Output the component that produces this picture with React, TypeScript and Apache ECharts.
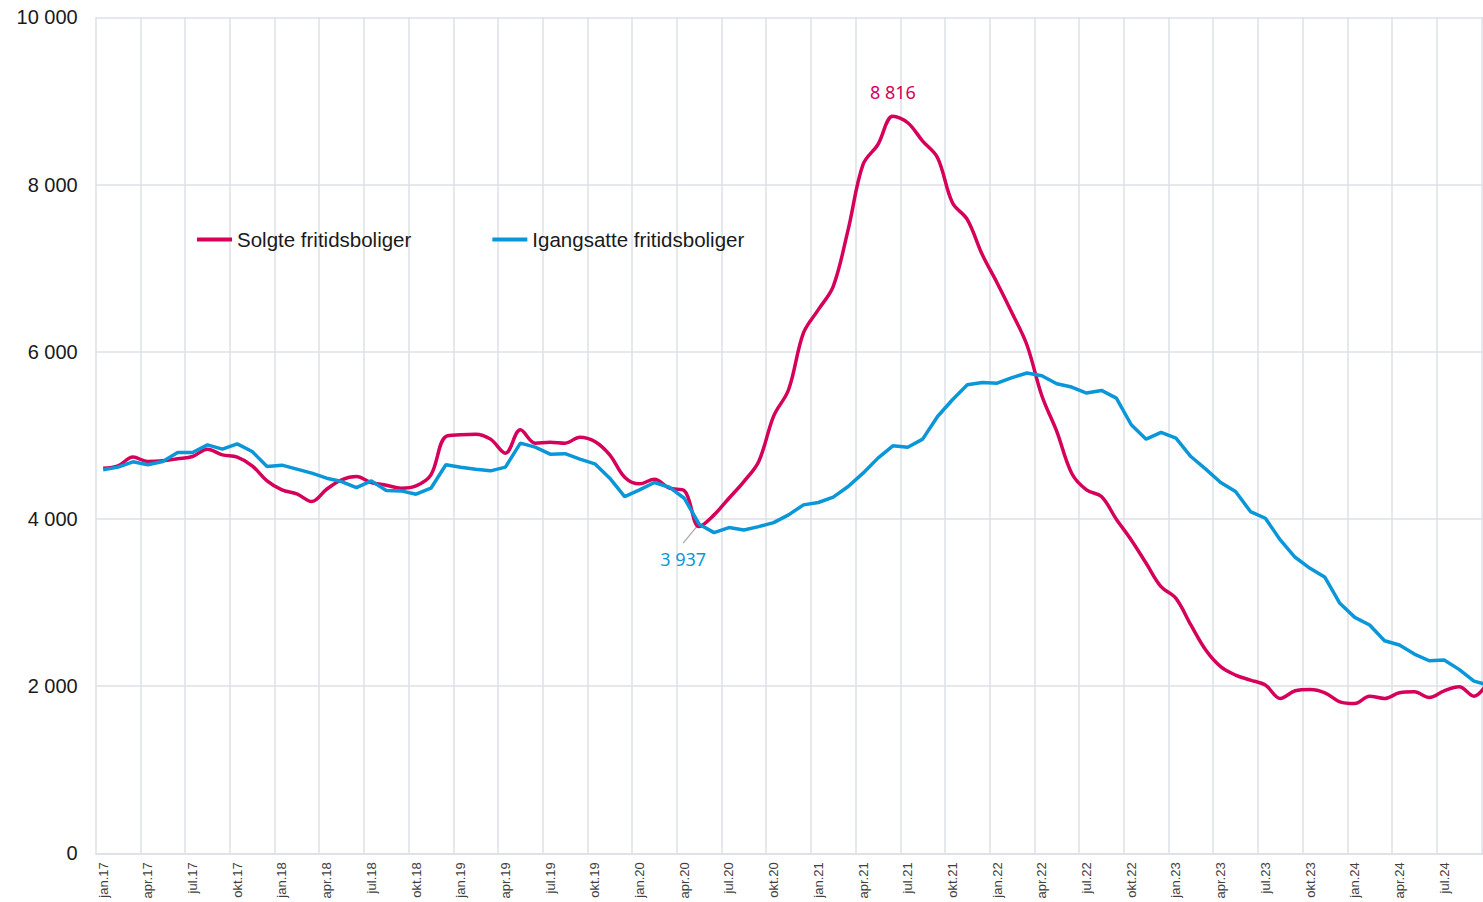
import React, { useEffect, useRef } from "react";
import * as echarts from "echarts";

const monthNames = ["jan", "feb", "mar", "apr", "mai", "jun", "jul", "aug", "sep", "okt", "nov", "des"];
const years = ["17", "18", "19", "20", "21", "22", "23", "24"];
const lastMonthIndex2024 = 9; // okt.24

const categories: string[] = [];
years.forEach((y) => {
  monthNames.forEach((m, mi) => {
    if (y === "24" && mi > lastMonthIndex2024) return;
    categories.push(`${m}.${y}`);
  });
});

const solgte = [
  4607, 4635, 4739, 4687, 4695, 4719, 4746, 4834, 4766, 4739, 4635, 4455,
  4347, 4299, 4207, 4355, 4467, 4507, 4435, 4403, 4367, 4395, 4527, 4986,
  5006, 5014, 4954, 4786, 5066, 4906, 4918, 4906, 4978, 4926, 4766, 4499,
  4419, 4475, 4367, 4339, 3908, 4048, 4247, 4447, 4687, 5230, 5545, 6224,
  6503, 6782, 7461, 8240, 8479, 8816, 8739, 8519, 8320, 7781, 7581, 7162,
  6822, 6463, 6080, 5473, 5046, 4547, 4347, 4267, 3996, 3748, 3469, 3189,
  3050, 2731, 2431, 2232, 2132, 2072, 2012, 1852, 1944, 1960, 1920, 1812,
  1792, 1880, 1852, 1920, 1932, 1864, 1944, 1992, 1880, 2060,
];

const igangsatte = [
  4587, 4619, 4683, 4647, 4687, 4794, 4794, 4886, 4834, 4898, 4806, 4627,
  4643, 4595, 4547, 4487, 4447, 4375, 4455, 4339, 4335, 4295, 4367, 4647,
  4619, 4595, 4575, 4619, 4906, 4858, 4774, 4780, 4715, 4659, 4487, 4267,
  4347, 4435, 4379, 4247, 3937, 3836, 3896, 3868, 3908, 3956, 4048, 4168,
  4196, 4260, 4387, 4547, 4727, 4874, 4858, 4954, 5225, 5425, 5605, 5632,
  5624, 5690, 5745, 5713, 5617, 5577, 5505, 5537, 5445, 5126, 4954, 5034,
  4966, 4746, 4595, 4435, 4327, 4088, 4008, 3748, 3541, 3409, 3301, 2990,
  2822, 2731, 2543, 2491, 2383, 2303, 2311, 2200, 2060, 2010,
];

const seriesNames = ["Solgte fritidsboliger", "Igangsatte fritidsboliger"];
const peakLabelCategory = "jun.21";
const lowLabelCategory = "mai.20";

const RED = "#D6005B";
const BLUE = "#0A97D9";
const GRID = "#DDE1E7";

const fmt = (v: number) => String(v).replace(/\B(?=(\d{3})+(?!\d))/g, " ");

export default function App() {
  const ref = useRef<HTMLDivElement>(null);

  useEffect(() => {
    if (!ref.current) return;
    const chart = echarts.init(ref.current, undefined, { renderer: "svg" });
    const peakIdx = categories.indexOf(peakLabelCategory);
    const lowIdx = categories.indexOf(lowLabelCategory);

    const redData = solgte.map((v, i) =>
      i === peakIdx
        ? {
            value: v,
            label: {
              show: true,
              position: "top",
              distance: 15,
              formatter: () => fmt(v),
              color: RED,
              fontSize: 18,
              fontFamily: "Noto Sans",
            },
          }
        : v
    );
    const blueData = igangsatte.map((v, i) =>
      i === lowIdx
        ? {
            value: v,
            label: {
              show: true,
              position: "bottom",
              distance: 0,
              offset: [-16, 26],
              formatter: () => fmt(v),
              color: BLUE,
              fontSize: 18,
              fontFamily: "Noto Sans",
            },
          }
        : v
    );

    chart.setOption({
      animation: false,
      backgroundColor: "#ffffff",
      grid: { left: 95.7, top: 17.3, bottom: 48.7, right: 13.7, containLabel: false },
      legend: {
        left: 192,
        top: 224,
        itemGap: 81,
        itemWidth: 35,
        itemHeight: 4,
        icon: "rect",
        textStyle: { fontSize: 20.5, color: "#1a1a1a", fontFamily: "Liberation Sans, Arial, sans-serif" },
        data: seriesNames,
      },
      xAxis: {
        type: "category",
        data: categories,
        boundaryGap: true,
        axisLine: { show: true, lineStyle: { color: GRID, width: 1.5 } },
        axisTick: { show: false, interval: 2 },
        splitLine: { show: true, interval: 2, lineStyle: { color: GRID, width: 1.5 } },
        axisLabel: {
          interval: 2,
          rotate: 90,
          margin: 9,
          fontSize: 13,
          color: "#404040",
          fontFamily: "Liberation Sans, Arial, sans-serif",
        },
      },
      yAxis: {
        type: "value",
        min: 0,
        max: 10000,
        interval: 2000,
        axisLine: { show: false },
        axisTick: { show: false },
        splitLine: { show: true, lineStyle: { color: GRID, width: 1.5 } },
        axisLabel: {
          margin: 18,
          fontSize: 20,
          color: "#1a1a1a",
          fontFamily: "Liberation Sans, Arial, sans-serif",
          formatter: (v: number) => fmt(v),
        },
      },
      series: [
        {
          name: seriesNames[0],
          type: "line",
          data: redData,
          smooth: 0.35,
          showSymbol: true,
          symbol: "circle",
          symbolSize: 0,
          lineStyle: { color: RED, width: 3.5 },
          itemStyle: { color: RED },
          z: 3,
        },
        {
          name: seriesNames[1],
          type: "line",
          data: blueData,
          smooth: false,
          showSymbol: true,
          symbol: "circle",
          symbolSize: 0,
          lineStyle: { color: BLUE, width: 3.5 },
          itemStyle: { color: BLUE },
          z: 4,
        },
      ],
    });

    const p = chart.convertToPixel({ xAxisIndex: 0, yAxisIndex: 0 }, [lowIdx, igangsatte[lowIdx]]) as number[];
    if (p && p.length === 2) {
      chart.setOption({
        graphic: [
          {
            type: "line",
            z: 2,
            shape: { x1: p[0] - 2, y1: p[1] + 2, x2: p[0] - 16, y2: p[1] + 19 },
            style: { stroke: "#A6A6A6", lineWidth: 1.2 },
          },
        ],
      });
    }

    return () => chart.dispose();
  }, []);

  return (
    <div style={{ position: "fixed", left: 0, top: 0, width: 1483, height: 902, overflow: "hidden", background: "#fff" }}>
      <div ref={ref} style={{ width: 1510, height: 902 }} />
    </div>
  );
}
